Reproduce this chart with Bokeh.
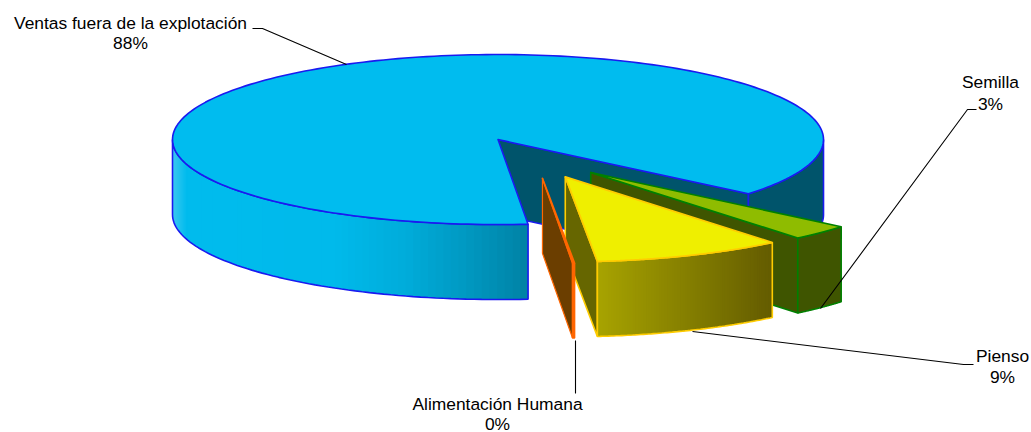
import numpy as np
from bokeh.plotting import figure
from bokeh.embed import file_html
from bokeh.resources import INLINE
from bokeh.core.properties import value

categories = ["Ventas fuera de la explotación", "Semilla", "Pienso", "Alimentación Humana"]
shares = [87.5, 3.0, 9.4, 0.1]
share_labels = ["88%", "3%", "9%", "0%"]

TOP = ["#00BCEF", "#8FBC00", "#EFEF00", "#FF6600"]
EDGE = ["#1A1AF0", "#008000", "#FFCC00", "#FF6600"]
WALL = ["#00546B", "#3F5500", "#666600", "#6B3E00"]
RIM_STOPS = [
    [(0.0, (60, 200, 240)), (0.04, (0, 188, 238)), (0.46, (0, 186, 235)),
     (0.66, (0, 172, 218)), (0.85, (0, 150, 190)), (1.0, (0, 130, 165))],
    [(0.0, (63, 85, 0)), (1.0, (63, 85, 0))],
    [(0.0, (168, 164, 0)), (1.0, (100, 92, 0))],
    [(0.0, (255, 102, 0)), (1.0, (255, 102, 0))],
]

A, B, DEPTH = 325.5, 85.0, 75.0
CX, CY = 534.4, 157.3
EXPLODE = 0.243
START = 174.7


def rim(cx, cy, t0, t1, n=120):
    t = np.radians(np.linspace(t0, t1, n))
    return cx + A * np.sin(t), cy - B * np.cos(t)


p = figure(width=1031, height=432, x_range=(0, 1031), y_range=(432, 0),
           output_backend="svg", toolbar_location=None, min_border=0,
           outline_line_color=None)
p.axis.visible = False
p.grid.visible = False

spans = []
a0 = START
for s in shares:
    a1 = a0 + s * 3.6
    spans.append((a0, a1))
    a0 = a1


def draw_slice(i, t0, t1):
    """t0..t1 clockwise from the top; draws walls, rim and top of one wedge."""
    mid = np.radians((t0 + t1) / 2)
    ax = CX + EXPLODE * A * np.sin(mid)
    ay = CY - EXPLODE * B * np.cos(mid)
    lw = 1.6

    # wall on the clockwise end of the wedge
    ex, ey = rim(ax, ay, t1, t1, 1)
    xs = [ax, ex[0], ex[0], ax]
    ys = [ay, ey[0], ey[0] + DEPTH, ay + DEPTH]
    p.patch(xs, ys, fill_color=WALL[i], line_color=EDGE[i], line_width=1.2 if i == 3 else lw)

    # outer rim: only the parts facing the viewer
    tt0, tt1 = t0 % 360, (t1 % 360)
    if i == 0:
        pieces = [(90.0, tt1, [(0.0, (0, 84, 107)), (1.0, (0, 84, 107))]),
                  (tt0, 270.0, None)]
    else:
        pieces = [(tt0, tt1, None)]
    for lo, hi, stops in pieces:
        stops = stops or RIM_STOPS[i]
        n = 70
        rx, ry = rim(ax, ay, lo, hi, n + 1)
        xmin, xmax = rx.min(), rx.max()
        fs = [q[0] for q in stops]
        ox = list(rx) + list(rx[::-1]) + [rx[0]]
        oy = list(ry) + list(ry[::-1] + DEPTH) + [ry[0]]
        if stops[0][1] == stops[-1][1]:
            # flat colour: a single face
            p.patch(ox, oy, fill_color="#%02X%02X%02X" % stops[0][1], line_color=None)
        else:
            for k in range(n):
                # painter's overlap: each strip reaches under the next, so no seams show
                e = min(k + 2, n)
                f = ((rx[k] + rx[k + 1]) / 2 - xmin) / max(xmax - xmin, 1e-6)
                rgb = [int(np.interp(f, fs, [q[1][c] for q in stops])) for c in range(3)]
                col = "#%02X%02X%02X" % tuple(rgb)
                p.patch([rx[k], rx[e], rx[e], rx[k]],
                        [ry[k], ry[e], ry[e] + DEPTH, ry[k] + DEPTH],
                        fill_color=col, line_color=None)
        p.line(ox, oy, line_color=EDGE[i], line_width=lw)

    # top face
    tx, ty = rim(ax, ay, t0, t1, 240)
    p.patch([ax] + list(tx) + [ax], [ay] + list(ty) + [ay],
            fill_color=TOP[i], line_color=EDGE[i], line_width=lw, line_join="round")


for i in [0, 1, 2, 3]:
    draw_slice(i, *spans[i])

# leader lines
leaders = [
    ([252, 262, 346], [28, 28, 64]),
    ([976, 967, 820], [109, 109, 308]),
    ([973, 963, 692], [364, 364, 331]),
    ([575, 575], [340, 393]),
]
for lx, ly in leaders:
    p.line(lx, ly, line_color="#000000", line_width=1.1)

label_x = [130, 990, 1002, 497]
label_y = [[22, 42], [81, 103], [355, 376], [403, 423]]
for name, pct, x, (y1, y2) in zip(categories, share_labels, label_x, label_y):
    p.text([x, x], [y1, y2], text=[name, pct], text_align="center", text_baseline="middle",
           text_font=value("Liberation Sans"), text_font_size="17.4px", text_color="#000000")

open("out.html", "w").write(file_html(p, INLINE))
